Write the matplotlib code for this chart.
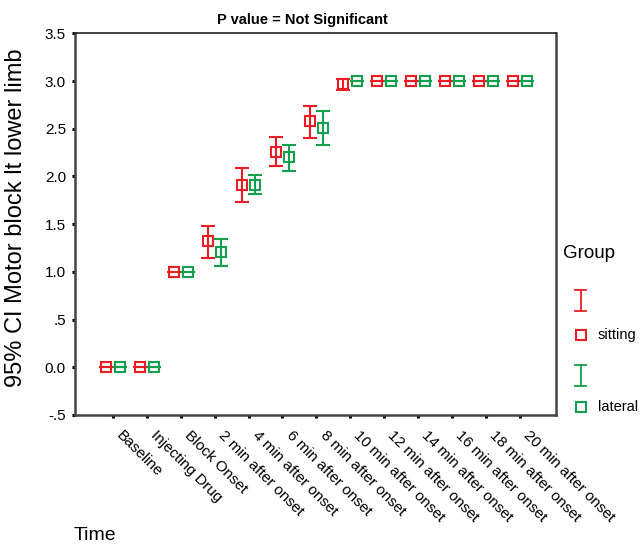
import matplotlib
matplotlib.use("Agg")
import matplotlib.pyplot as plt
from matplotlib.lines import Line2D
from matplotlib.transforms import ScaledTranslation, blended_transform_factory
import numpy as np

plt.rcParams['font.family'] = ['Liberation Sans', 'DejaVu Sans']

categories = ['Baseline', 'Injecting Drug', 'Block Onset', '2 min after onset',
              '4 min after onset', '6 min after onset', '8 min after onset',
              '10 min after onset', '12 min after onset', '14 min after onset',
              '16 min after onset', '18 min after onset', '20 min after onset']

sitting_mean = [0, 0, 1.0, 1.32, 1.915, 2.255, 2.58, 2.97, 3, 3, 3, 3, 3]
sitting_lo   = [0, 0, 1.0, 1.147, 1.734, 2.107, 2.405, 2.91, 3, 3, 3, 3, 3]
sitting_hi   = [0, 0, 1.0, 1.478, 2.09, 2.415, 2.743, 3.026, 3, 3, 3, 3, 3]

lateral_mean = [0, 0, 1.0, 1.205, 1.915, 2.205, 2.51, 3, 3, 3, 3, 3, 3]
lateral_lo   = [0, 0, 1.0, 1.059, 1.818, 2.054, 2.334, 3, 3, 3, 3, 3, 3]
lateral_hi   = [0, 0, 1.0, 1.346, 2.01, 2.331, 2.69, 3, 3, 3, 3, 3, 3]

y_ticks = [-0.5, 0.0, 0.5, 1.0, 1.5, 2.0, 2.5, 3.0, 3.5]
y_tick_labels = ['-.5', '0.0', '.5', '1.0', '1.5', '2.0', '2.5', '3.0', '3.5']

groups = ['sitting', 'lateral']
RED = '#ec1c24'
GREEN = '#12a04c'
colors = [RED, GREEN]

W, H = 642, 546
fig = plt.figure(figsize=(W / 100, H / 100), dpi=100)
ax = fig.add_axes([75 / W, 1 - 415 / H, (556 - 75) / W, (415 - 33.3) / H])

x = np.arange(len(categories))
offsets = [-0.2, 0.2]
series = [(sitting_mean, sitting_lo, sitting_hi), (lateral_mean, lateral_lo, lateral_hi)]
for (m, lo, hi), off, c in zip(series, offsets, colors):
    m = np.array(m); lo = np.array(lo); hi = np.array(hi)
    ax.errorbar(x + off, m, yerr=[m - lo, hi - m], fmt='s', color=c,
                mfc='none', mec=c, mew=1.5, ms=7.5, elinewidth=1.5,
                capsize=5.3, capthick=1.5, zorder=3)

ax.set_xlim(-1.12, 13.07)
ax.set_ylim(-0.5, 3.5)
ax.set_yticks(y_ticks)
ax.set_yticklabels(y_tick_labels, fontsize=11)
ax.set_xticks(x)
ax.set_xticklabels([])
trans = blended_transform_factory(ax.transData, ax.transAxes) + \
    ScaledTranslation(11 / 100, -13 / 100, fig.dpi_scale_trans)
for xi, lab in zip(x, categories):
    ax.text(xi, 0, lab, transform=trans, rotation=-45, ha='left', va='top',
            rotation_mode='anchor', fontsize=11, clip_on=False)
ax.tick_params(axis='both', direction='out', length=2.5, width=2.2, color='black')
ax.tick_params(axis='y', pad=4)
for s in ['left', 'bottom', 'right']:
    ax.spines[s].set_linewidth(1.8)
    ax.spines[s].set_color('#444444')
ax.spines['top'].set_linewidth(1.2)
ax.spines['top'].set_color('#222222')

# Title and axis labels
fig.text(302 / W, 1 - 20 / H, 'P value = Not Significant', ha='center', va='center',
         fontsize=10.5, fontweight='bold')
fig.text(16 / W, 1 - 218 / H, '95% CI Motor block lt lower limb', rotation=90,
         ha='center', va='center', fontsize=17)
fig.text(74 / W, 1 - 536 / H, 'Time', ha='left', va='center', fontsize=14)

# Legend (SPSS style)
fig.text(563 / W, 1 - 253 / H, 'Group', ha='left', va='center', fontsize=13.5)
legend_rows = [(300, 335), (375, 407)]
for (ybar, ysq), c, lab in zip(legend_rows, colors, groups):
    xc = 580.5 / W
    y0 = 1 - (ybar - 10.5) / H
    y1 = 1 - (ybar + 10.5) / H
    hw = 5.5 / W
    fig.add_artist(Line2D([xc, xc], [y0, y1], color=c, lw=1.3))
    fig.add_artist(Line2D([xc - hw, xc + hw], [y0, y0], color=c, lw=1.3))
    fig.add_artist(Line2D([xc - hw, xc + hw], [y1, y1], color=c, lw=1.3))
    fig.add_artist(Line2D([xc], [1 - ysq / H], marker='s', ms=7, mfc='none',
                          mec=c, mew=1.5, ls='none'))
    fig.text(598 / W, 1 - ysq / H, lab, ha='left', va='center', fontsize=10.5)

fig.savefig('out.png', dpi=100)
